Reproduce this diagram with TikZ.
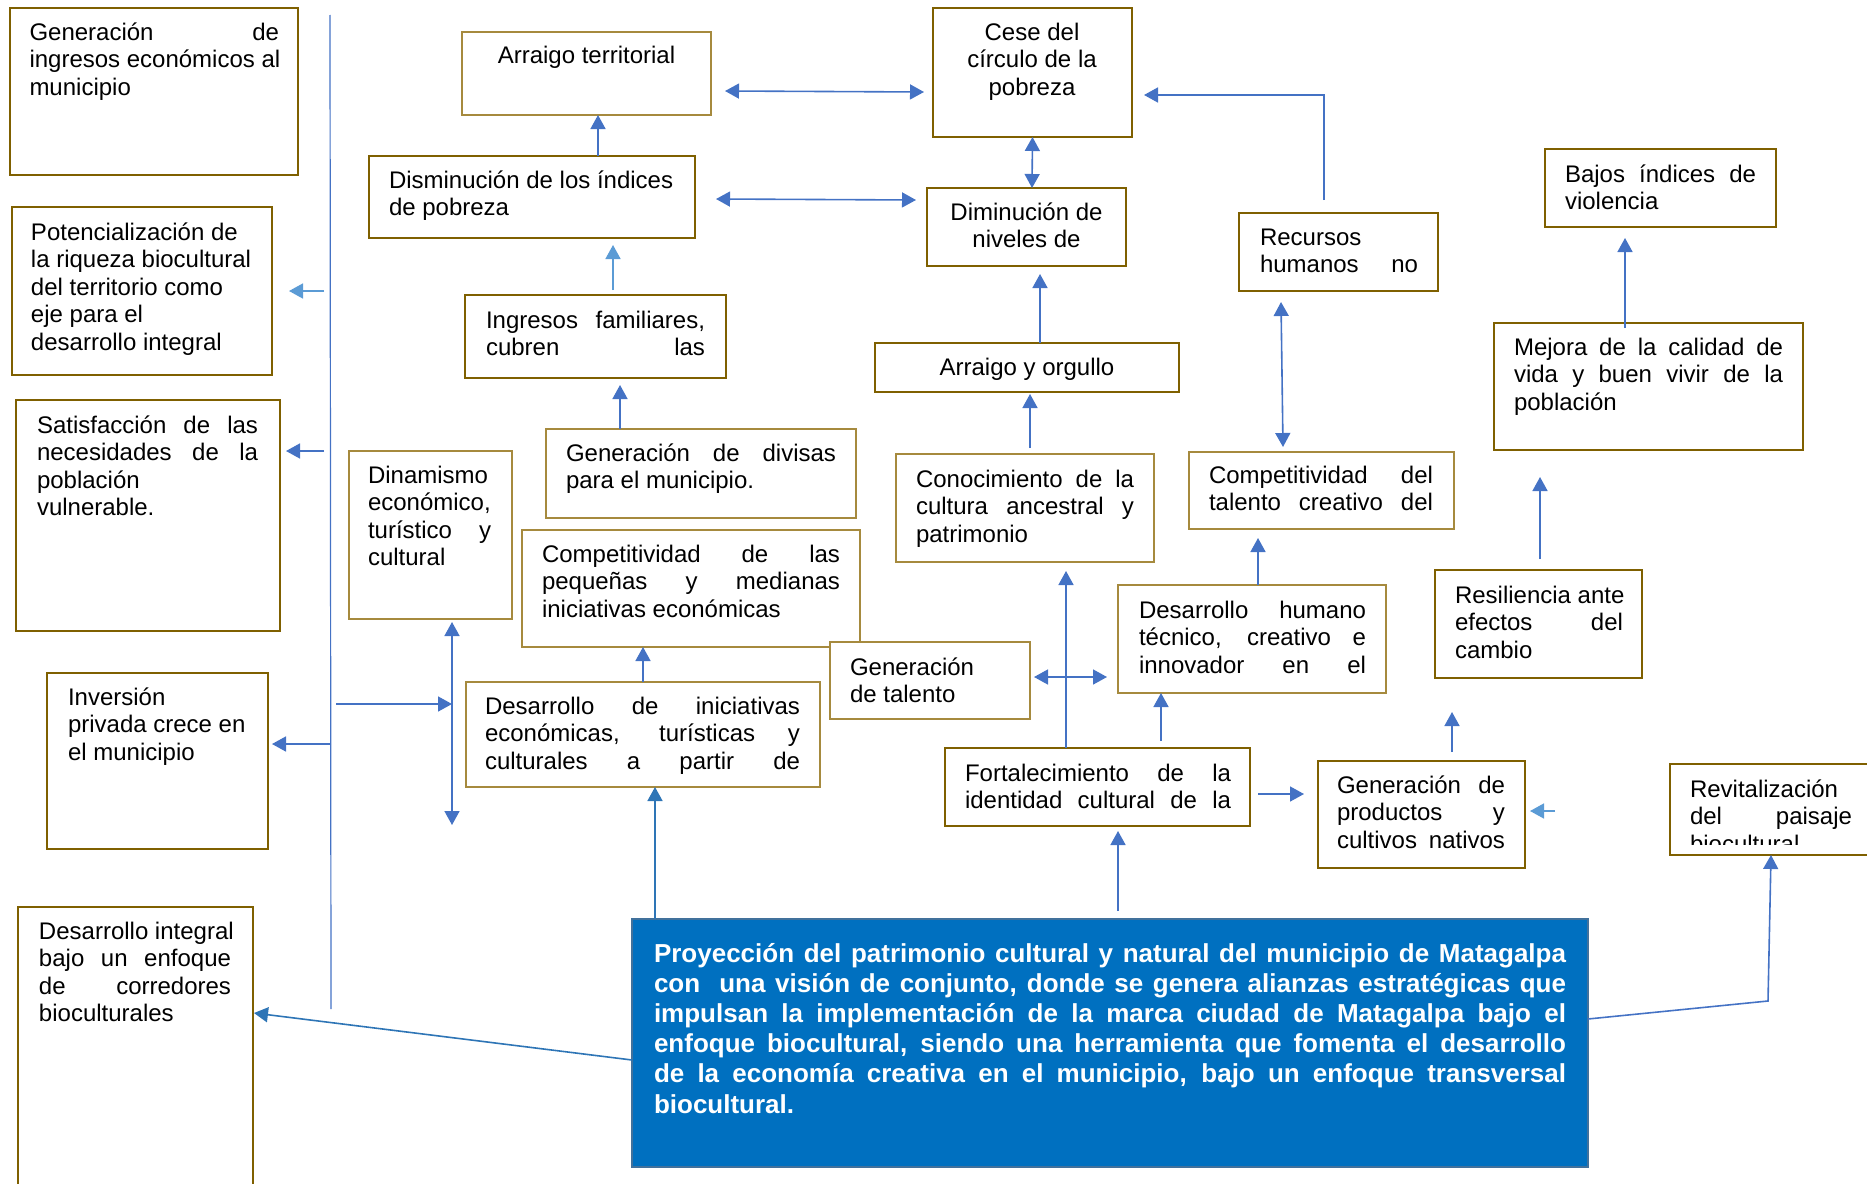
\documentclass[tikz,border=0pt]{standalone}
\usepackage{fontspec}
\setmainfont{Liberation Sans}
\usetikzlibrary{arrows.meta,calc}

\definecolor{boxdark}{RGB}{127,96,0}
\definecolor{boxlight}{RGB}{166,138,62}
\definecolor{linkblue}{RGB}{68,114,196}
\definecolor{paleblue}{RGB}{91,155,213}
\definecolor{deepblue}{RGB}{46,117,182}
\definecolor{panelblue}{RGB}{0,112,192}
\definecolor{paneledge}{RGB}{65,113,156}

% one justified line, its word spaces stretched over the full text width
\newcommand\J[1]{\leavevmode\hbox to \hsize{\spaceskip=\fontdimen2\font plus 1fil\relax\xspaceskip=\spaceskip #1}}
% one line with the font's own word spaces
\newcommand\N[1]{\leavevmode\hbox{\spaceskip=\fontdimen2\font\relax\xspaceskip=\spaceskip #1}}
% box from its corners (x1,y1)-(x2,y2), given in picture units
\newcommand\bx[6]{\node[#2,minimum width={(#5-#3)*0.5pt},minimum height={(#6-#4)*0.5pt}] (#1) at ({(#3+#5)/2},{(#4+#6)/2}) {};}

\begin{document}
\begin{tikzpicture}[x=0.5pt,y=-0.5pt,
  thickbox/.style={rectangle,draw=boxdark,line width=1pt,inner sep=0pt,outer sep=0pt},
  thinbox/.style={rectangle,draw=boxlight,line width=0.6pt,inner sep=0pt,outer sep=0pt},
  panelbox/.style={rectangle,fill=panelblue,draw=paneledge,line width=1.2pt,inner sep=0pt,outer sep=0pt},
  txt/.style={anchor=base west,inner sep=0pt,outer sep=0pt,align=left,
    font=\fontsize{12pt}{13.75pt}\selectfont},
  ctxt/.style={anchor=base,inner sep=0pt,outer sep=0pt,align=center,
    font=\fontsize{12pt}{13.75pt}\selectfont},
  tip/.tip={Triangle[length=7pt,width=7.5pt]},
  link/.style={draw=linkblue,line width=0.8pt,-tip},
  palelink/.style={draw=paleblue,line width=0.8pt,-tip},
  deeplink/.style={draw=deepblue,line width=0.8pt,-tip},
  twoway/.style={draw=linkblue,line width=0.8pt,tip-tip},
  spine/.style={draw=linkblue,line width=0.6pt}]

\useasboundingbox (0,0) rectangle (1867,1183);

% ---------- boxes ----------
\bx{genIng}{thickbox}{10}{8}{298}{175}
\bx{potenc}{thickbox}{12}{207}{272}{375}
\bx{satisf}{thickbox}{16}{400}{280}{631}
\bx{invers}{thickbox}{47}{673}{268}{849}
\bx{desInt}{thickbox}{18}{907}{253}{1200}
\bx{arrTer}{thinbox}{462}{32}{711}{115}
\bx{disInd}{thickbox}{369}{156}{695}{238}
\bx{ingFam}{thickbox}{465}{295}{726}{378}
\bx{dinam}{thinbox}{349}{451}{512}{619}
\bx{divisas}{thinbox}{546}{429}{856}{518}
\bx{compPyme}{thinbox}{522}{530}{860}{647}
\bx{desIni}{thinbox}{466}{682}{820}{787}
\bx{cese}{thickbox}{933}{8}{1132}{137}
\bx{dimNiv}{thickbox}{927}{188}{1126}{266}
\bx{arrOrg}{thickbox}{875}{343}{1179}{392}
\bx{conoc}{thinbox}{896}{454}{1154}{562}
\bx{genTal}{thinbox,fill=white}{830}{642}{1030}{719}
\bx{fortal}{thickbox}{945}{748}{1250}{826}
\bx{recur}{thickbox}{1239}{213}{1438}{291}
\bx{compTal}{thinbox}{1189}{452}{1454}{529}
\bx{desHum}{thinbox}{1118}{585}{1386}{693}
\bx{bajos}{thickbox}{1545}{149}{1776}{227}
\bx{mejora}{thickbox}{1494}{323}{1803}{450}
\bx{resil}{thickbox}{1435}{570}{1642}{678}
\bx{genProd}{thickbox}{1318}{761}{1525}{868}
\bx{revit}{thickbox}{1670}{764}{1880}{855}
\bx{panel}{panelbox}{632}{919}{1588}{1167}

% ---------- texts ----------
\node[txt,text width=124.75pt] (genIng-t) at (29.5,40)
  {\J{Generación de}\\\J{ingresos económicos al}\\municipio};
\node[txt,text width=120pt] (potenc-t) at (31,240)
  {\N{Potencialización de}\\\N{la riqueza biocultural}\\\N{del territorio como}\\\N{eje para el}\\\N{desarrollo integral}};
\node[txt,text width=110.5pt] (satisf-t) at (37,433)
  {\J{Satisfacción de las}\\\J{necesidades de la}\\población\\vulnerable.};
\node[txt,text width=95pt] (invers-t) at (68,705)
  {Inversión\\\N{privada crece en}\\\N{el municipio}};
\node[txt,text width=96pt] (desInt-t) at (39,939)
  {\J{Desarrollo integral}\\\J{bajo un enfoque}\\\J{de corredores}\\bioculturales};
\node[ctxt,text width=124.5pt] (arrTer-t) at (586.5,63) {\N{Arraigo territorial}};
\node[txt,text width=150pt] (disInd-t) at (389,188)
  {\N{Disminución de los índices}\\\N{de pobreza}};
\node[txt,text width=109.5pt] (ingFam-t) at (486,328)
  {\J{Ingresos familiares,}\\\J{cubren las}};
\node[txt,text width=61.5pt] (dinam-t) at (368,483)
  {Dinamismo\\económico,\\\J{turístico y}\\cultural};
\node[txt,text width=135pt] (divisas-t) at (566,461)
  {\J{Generación de divisas}\\\N{para el municipio.}};
\node[txt,text width=149pt] (compPyme-t) at (542,562)
  {\J{Competitividad de las}\\\J{pequeñas y medianas}\\\N{iniciativas económicas}};
\node[txt,text width=157.5pt] (desIni-t) at (485,714)
  {\J{Desarrollo de iniciativas}\\\J{económicas, turísticas y}\\\J{culturales a partir de}};
\node[ctxt,text width=99.5pt] (cese-t) at (1032,40)
  {\N{Cese del}\\\N{círculo de la}\\pobreza};
\node[ctxt,text width=99.5pt] (dimNiv-t) at (1026.5,220)
  {\N{Diminución de}\\\N{niveles de}};
\node[ctxt,text width=152pt] (arrOrg-t) at (1027,375) {\N{Arraigo y orgullo}};
\node[txt,text width=109pt] (conoc-t) at (916,487)
  {\J{Conocimiento de la}\\\J{cultura ancestral y}\\patrimonio};
\node[txt,text width=85pt] (genTal-t) at (850,675)
  {Generación\\\N{de talento}};
\node[txt,text width=133pt] (fortal-t) at (965,781)
  {\J{Fortalecimiento de la}\\\J{identidad cultural de la}};
\node[txt,text width=79pt] (recur-t) at (1260,245)
  {Recursos\\\J{humanos no}};
\node[txt,text width=112pt] (compTal-t) at (1209,483)
  {\J{Competitividad del}\\\J{talento creativo del}};
\node[txt,text width=113.5pt] (desHum-t) at (1139,618)
  {\J{Desarrollo humano}\\\J{técnico, creativo e}\\\J{innovador en el}};
\node[txt,text width=95.5pt] (bajos-t) at (1565,182)
  {\J{Bajos índices de}\\violencia};
\node[txt,text width=134.5pt] (mejora-t) at (1514,355)
  {\J{Mejora de la calidad de}\\\J{vida y buen vivir de la}\\población};
\node[txt,text width=84pt] (resil-t) at (1455,603)
  {\J{Resiliencia ante}\\\J{efectos del}\\cambio};
\node[txt,text width=84pt] (genProd-t) at (1337,793)
  {\J{Generación de}\\\J{productos y}\\\J{cultivos nativos}};
\begin{scope}
  \clip (1670,764) rectangle (1880,844);
  \node[txt,text width=81pt] (revit-t) at (1690,797)
    {Revitalización\\\J{del paisaje}\\biocultural};
\end{scope}
\node[txt,text width=456pt,text=white,font=\bfseries\fontsize{13pt}{15.1pt}\selectfont] (panel-t) at (654,962)
  {\J{Proyección del patrimonio cultural y natural del municipio de Matagalpa}\\
   \J{con\ \ una visión de conjunto, donde se genera alianzas estratégicas que}\\
   \J{impulsan la implementación de la marca ciudad de Matagalpa bajo el}\\
   \J{enfoque biocultural, siendo una herramienta que fomenta el desarrollo}\\
   \J{de la economía creativa en el municipio, bajo un enfoque transversal}\\
   biocultural.};

% ---------- connectors ----------
\coordinate (spineTop) at (330,15);
\coordinate (spineBot) at (331,1009);
\draw[spine] (spineTop) -- (spineBot);

% left column, fed from the spine
\draw[palelink] ($(potenc.east)+(52,0)$) -- ($(potenc.east)+(17,0)$);
\draw[link] ($(satisf.north east)+(44,51)$) -- ($(satisf.north east)+(6,51)$);
\draw[link] ($(invers.north east)+(63,71)$) -- ($(invers.north east)+(4,71)$);
\draw[link] ($(desIni.north west)+(-130,22)$) -- ($(desIni.north west)+(-14,22)$);
\draw[twoway] ($(dinam.south west)+(103,3)$) -- ($(desIni.south west)+(-14,38)$);
\draw[deeplink] ($(panel.north west)+(0,141)$) -- ($(desInt.north east)+(1,106)$);

% middle-left chain
\draw[link] ($(disInd.north west)+(229,0)$) -- ($(arrTer.south west)+(136,0)$);
\draw[palelink] ($(ingFam.north west)+(148,-5)$) -- ($(disInd.south west)+(244,7)$);
\draw[link] ($(divisas.north west)+(74,0)$) -- ($(ingFam.south west)+(155,7)$);
\draw[link] ($(desIni.north west)+(177,0)$) -- ($(compPyme.south west)+(121,0)$);
\draw[deeplink] ($(panel.north west)+(23,0)$) -- ($(desIni.south west)+(189,0)$);

% poverty cycle
\draw[twoway] ($(arrTer.east)+(14,17.5)$) -- ($(cese.west)+(-9,19.5)$);
\draw[twoway] ($(disInd.east)+(21,2)$) -- ($(dimNiv.west)+(-11,-27)$);
\draw[twoway] (cese.south) -- ($(dimNiv.north)+(5.5,0)$);
\draw[link] ($(recur.north west)+(85,-13)$) |- ($(cese.east)+(12,22.5)$);
\draw[link] ($(arrOrg.north west)+(165,0)$) -- ($(dimNiv.south west)+(113,8)$);
\draw[link] ($(conoc.north west)+(134,-6)$) -- ($(arrOrg.south west)+(155,2)$);

% talent branch
\draw[twoway] ($(recur.south west)+(42,11)$) -- ($(compTal.north west)+(94,-5)$);
\draw[link] ($(fortal.north west)+(121,0)$) -- ($(conoc.south west)+(170,9)$);
\draw[twoway] ($(genTal.east)+(4,-3.5)$) -- ($(desHum.west)+(-11,38)$);
\draw[link] ($(fortal.north west)+(216,-7)$) -- ($(desHum.south west)+(43,0)$);
\draw[link] ($(desHum.north west)+(140,0)$) -- ($(compTal.south west)+(69,9)$);
\draw[link] ($(panel.north west)+(486,-8)$) -- ($(fortal.south west)+(173,5)$);

% right branch
\draw[link] ($(fortal.east)+(8,7)$) -- ($(genProd.west)+(-14,-20.5)$);
\draw[link] ($(genProd.north west)+(134,-9)$) -- ($(resil.south west)+(17,34)$);
\draw[link] ($(resil.north west)+(105,-11)$) -- ($(mejora.south west)+(46,27)$);
\draw[link] ($(mejora.north west)+(131,5)$) -- ($(bajos.south west)+(80,11)$);
\draw[palelink] ($(genProd.east)+(30,-3.5)$) -- ($(genProd.east)+(5,-3.5)$);
\draw[link] ($(panel.north east)+(0,100)$) -- ($(revit.south west)+(98,146)$) -- ($(revit.south west)+(101,0)$);

\end{tikzpicture}
\end{document}
